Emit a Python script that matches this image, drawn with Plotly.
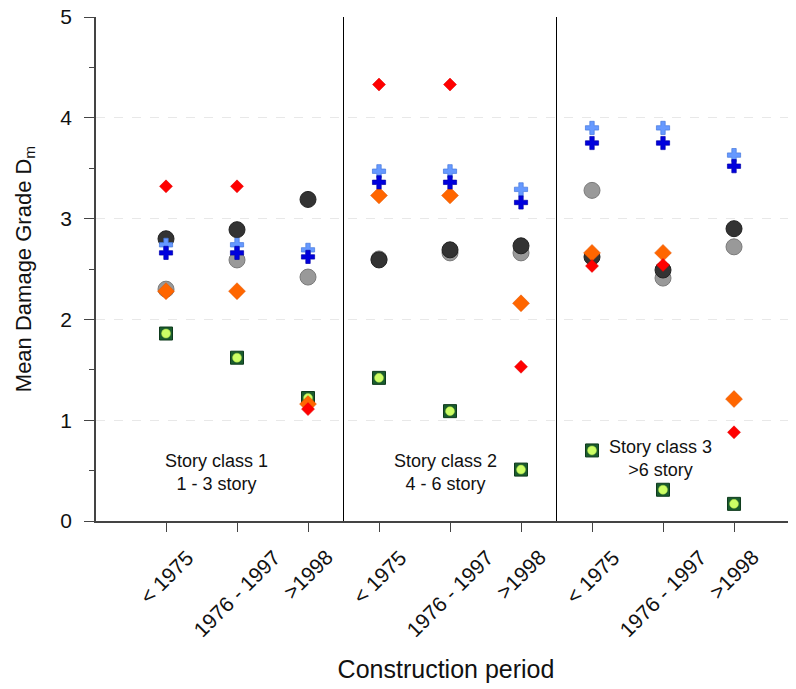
import plotly.graph_objects as go

periods = ["< 1975", "1976 - 1997", ">1998"] * 3
xpos = list(range(1, 10))

red_diamond = [3.32, 3.32, 1.11, 4.33, 4.33, 1.53, 2.53, 2.54, 0.88]
orange_diamond = [2.28, 2.28, 1.16, 3.23, 3.23, 2.16, 2.66, 2.66, 1.21]
light_gray_circle = [2.30, 2.59, 2.42, 2.60, 2.66, 2.66, 3.28, 2.41, 2.72]
dark_gray_circle = [2.80, 2.89, 3.19, 2.59, 2.69, 2.73, 2.62, 2.49, 2.90]
light_blue_cross = [2.74, 2.74, 2.69, 3.47, 3.47, 3.29, 3.90, 3.90, 3.63]
dark_blue_cross = [2.66, 2.66, 2.62, 3.36, 3.36, 3.16, 3.75, 3.75, 3.52]
green_square = [1.86, 1.62, 1.22, 1.42, 1.09, 0.51, 0.70, 0.31, 0.17]

class_labels = ["Story class 1<br>1 - 3 story", "Story class 2<br>4 - 6 story",
                "Story class 3<br>>6 story"]
class_label_x = [1.71, 4.94, 7.96]
class_label_y = [0.48, 0.48, 0.625]

FONT = "Liberation Sans, Arial, sans-serif"
fig = go.Figure()

def add(y, symbol, size, color, line_color, line_width=1):
    fig.add_trace(go.Scatter(x=xpos, y=y, mode="markers", showlegend=False,
                             marker=dict(symbol=symbol, size=size, color=color,
                                         line=dict(color=line_color, width=line_width))))

add(light_gray_circle, "circle", 16, "#999999", "#7a7a7a")
add(dark_gray_circle, "circle", 16, "#333333", "#222222")
add(green_square, "square", 13, "#1a5c2e", "#0e3a1c")
add(green_square, "circle", 9, "#ccff66", "#a0cc40", 0.5)
add(orange_diamond, "diamond", 13, "#ff6600", "#e05500", 0.5)
add(red_diamond, "diamond", 10, "#ff0000", "#dd0000", 0.5)
add(light_blue_cross, "cross", 11, "#6699ff", "#4477dd", 0.7)
add(dark_blue_cross, "cross", 11, "#0000dd", "#0000aa", 0.7)

for xd in [3.5, 6.5]:
    fig.add_shape(type="line", x0=xd, x1=xd, y0=0, y1=5, xref="x", yref="y",
                  line=dict(color="black", width=1))

for t, xx, yy in zip(class_labels, class_label_x, class_label_y):
    fig.add_annotation(x=xx, y=yy, text=t, showarrow=False, xref="x", yref="y",
                       font=dict(size=18, color="#111111", family=FONT))

# rotated period labels, centred beneath each tick
for xx, lab in zip(xpos, periods):
    fig.add_annotation(x=xx, y=-0.044, xref="x", yref="paper", text=lab,
                       showarrow=False, textangle=-45, xanchor="center", yanchor="top",
                       font=dict(size=21, color="#111111", family=FONT))

fig.update_layout(
    width=788, height=681,
    margin=dict(l=88, r=0, t=9, b=168),
    plot_bgcolor="white", paper_bgcolor="white",
    font=dict(family=FONT, color="#111111"),
    xaxis=dict(range=[0.014, 9.873], tickvals=xpos, showticklabels=False,
               ticks="outside", ticklen=9, tickcolor="#444", showline=True,
               linecolor="#444", linewidth=1.5, showgrid=False, zeroline=False,
               automargin=False,
               title=dict(text="Construction period", font=dict(size=25), standoff=130)),
    yaxis=dict(range=[0, 5.0001], tickvals=[0, 1, 2, 3, 4, 5], ticks="outside", ticklen=10,
               tickcolor="#444", showline=True, linecolor="#444", linewidth=1.5,
               showgrid=True, gridcolor="#e8e8e8", griddash="dash", zeroline=False,
               automargin=False, ticklabelstandoff=8, ticklabeloverflow="allow",
               tickfont=dict(size=21),
               minor=dict(tickvals=[0.5, 1.5, 2.5, 3.5, 4.5], ticks="outside", ticklen=5,
                          tickcolor="#444", showgrid=False),
               title=dict(text="Mean Damage Grade D<sub>m</sub>", font=dict(size=22), standoff=23)),
)

fig.write_html("out.html")
